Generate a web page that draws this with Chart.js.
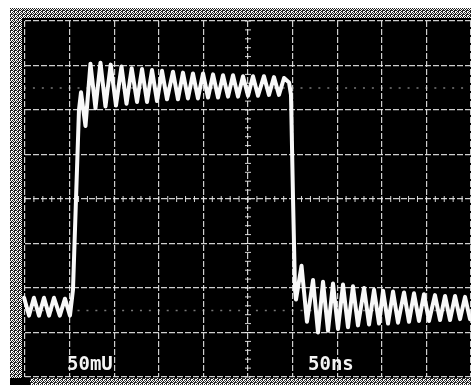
<!DOCTYPE html>
<html>
<head>
<meta charset="utf-8">
<script src="https://cdn.jsdelivr.net/npm/chart.js@4.4.0/dist/chart.umd.min.js"></script>
<style>
  html, body { margin: 0; padding: 0; background: #fff; }
  #wrap { width: 471px; height: 385px; position: relative; }
</style>
</head>
<body>
<div id="wrap"><canvas id="scope"></canvas></div>
<script>
// scope trace (time in ns, amplitude in mV)
const timeNs = [
  -3, -1, 4.5, 10, 15.7, 21.3, 27, 32.5, 39, 44.8, 50.4, 53.8, 60.5, 62.8,
  67.8, 73.4, 79, 84.6, 90.2, 96.1, 102, 108.2, 113.8, 119.6, 125.6, 131.2,
  136.8, 142.4, 148, 153.6, 159.2, 165.9, 171.5, 177.1, 182.7, 188.3, 193.9,
  199.6, 205.2, 210.8, 216.4, 222, 227.6, 233.2, 238.8, 244.4, 250, 255.6,
  261.2, 267.9, 273.5, 279.1, 284.7, 290.4, 296, 298.2, 300.5, 302.7, 303.8,
  310, 316.1, 322.9, 328.5, 334.1, 339.7, 345.3, 350.9, 356.5, 362.1, 367.7,
  373.3, 380.1, 385.7, 391.3, 396.9, 401.4, 407, 412.6, 418.2, 424.9, 430.5,
  436.1, 441.7, 447.3, 452.9, 459.6, 465.3, 470.9, 476.5, 482.1, 487.7,
  493.3, 498.9
];
const traceMv = [
  -119, -111, -131, -111, -131, -111, -131, -111, -131, -112, -131, -102, 100, 120,
  82, 152, 102, 153, 104, 151, 105, 149, 107, 147, 109, 146,
  109, 145, 110, 144, 112, 143, 112, 142, 113, 141, 113,
  141, 114, 140, 114, 139, 115, 139, 115, 138, 116, 138,
  116, 138, 117, 137, 117, 136, 131, 117, -1, -102, -113,
  -75, -138, -91, -150, -93, -148, -95, -146, -96, -144,
  -98, -142, -100, -141, -102, -140, -103, -140, -104, -139, -105, -138,
  -106, -137, -107, -137, -108, -136, -109, -136, -109, -135,
  -110, -135
];
// graticule: 10 x 8 divisions
const timeDiv = 50;   // ns per division
const voltDiv = 50;   // mV per division
const voltLabel = "50mU";
const timeLabel = "50ns";

const dither = document.createElement("canvas");
dither.width = 4; dither.height = 4;
(function () {
  const d = dither.getContext("2d");
  const on = [[0,0],[2,0],[1,1],[3,1],[0,2],[3,2],[1,3],[2,3],[2,2]];
  d.fillStyle = "#fff"; d.fillRect(0, 0, 4, 4);
  d.fillStyle = "#222";
  on.forEach(p => d.fillRect(p[0], p[1], 1, 1));
})();

const screenPlugin = {
  id: "screen",
  beforeDraw(chart) {
    const ctx = chart.ctx;
    const pat = ctx.createPattern(dither, "repeat");
    ctx.save();
    ctx.fillStyle = "#fff";
    ctx.fillRect(0, 0, chart.width, chart.height);
    ctx.fillStyle = pat;
    ctx.fillRect(10, 8, chart.width - 10, 11);
    ctx.fillRect(10, 8, 12, chart.height - 8);
    ctx.fillRect(30, 378, chart.width - 30, 7);
    ctx.fillStyle = "#000";
    ctx.fillRect(22, 18, chart.width - 22, 360);
    ctx.fillRect(10, 378, 20, 7);
    ctx.restore();
  },
  beforeDatasetsDraw(chart) {
    const ctx = chart.ctx;
    const x = chart.scales.x, y = chart.scales.y;
    ctx.save();
    ctx.strokeStyle = "rgba(235,235,235,0.9)";
    ctx.lineWidth = 1;
    // minor ticks on the centre axes
    const cx = x.getPixelForValue(250), cy = y.getPixelForValue(0);
    ctx.beginPath();
    for (let v = -200; v <= 200; v += voltDiv / 5) {
      const py = y.getPixelForValue(v);
      ctx.moveTo(cx - 3, py); ctx.lineTo(cx + 3, py);
    }
    for (let t = 0; t <= 500; t += timeDiv / 5) {
      const px = x.getPixelForValue(t);
      ctx.moveTo(px, cy - 3); ctx.lineTo(px, cy + 3);
    }
    ctx.stroke();
    // dotted 0% / 100% lines
    ctx.fillStyle = "rgba(200,200,200,0.6)";
    [-125, 125].forEach(v => {
      const py = y.getPixelForValue(v);
      for (let t = 0; t <= 500; t += timeDiv / 5) {
        ctx.fillRect(x.getPixelForValue(t) - 1, py - 0.5, 2, 1.5);
      }
    });
    ctx.restore();
  },
  afterDatasetsDraw(chart) {
    const ctx = chart.ctx;
    ctx.save();
    ctx.fillStyle = "#f4f4f4";
    ctx.font = 'bold 19px "DejaVu Sans Mono"';
    ctx.textBaseline = "alphabetic";
    ctx.fillText(voltLabel, 67, 370);
    ctx.fillText(timeLabel, 308, 370);
    ctx.restore();
  }
};

const points = timeNs.map((t, i) => ({ x: t, y: traceMv[i] }));

new Chart(document.getElementById("scope"), {
  type: "line",
  data: {
    datasets: [{
      data: points,
      borderColor: "#f8f8f8",
      borderWidth: 4,
      borderJoinStyle: "round",
      borderCapStyle: "round",
      pointRadius: 0,
      tension: 0,
      clip: false
    }]
  },
  options: {
    responsive: true,
    maintainAspectRatio: false,
    animation: false,
    events: [],
    layout: { padding: { left: 25, top: 21, right: 0, bottom: 8 } },
    plugins: { legend: { display: false }, tooltip: { enabled: false } },
    scales: {
      x: {
        type: "linear", min: 0, max: 500,
        ticks: { display: false, stepSize: timeDiv },
        grid: { color: "rgba(230,230,230,0.9)", lineWidth: 1.2, drawTicks: false },
        border: { display: false, dash: [6, 2] }
      },
      y: {
        type: "linear", min: -200, max: 200,
        ticks: { display: false, stepSize: voltDiv },
        grid: { color: "rgba(230,230,230,0.9)", lineWidth: 1.2, drawTicks: false },
        border: { display: false, dash: [6, 2] }
      }
    }
  },
  plugins: [screenPlugin]
});
</script>
</body>
</html>
